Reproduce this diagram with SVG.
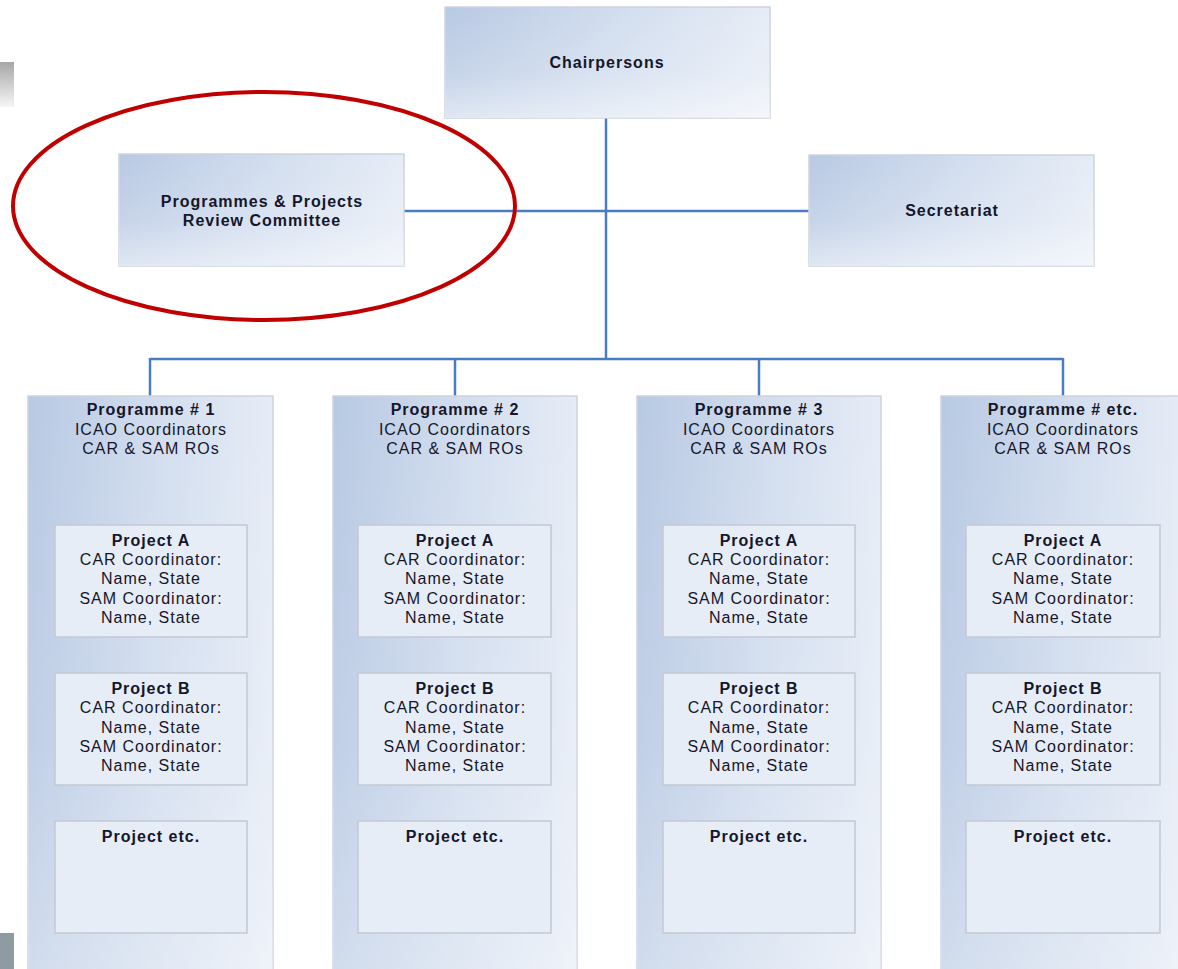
<svg xmlns="http://www.w3.org/2000/svg" width="1178" height="969" viewBox="0 0 1178 969">
<defs>
<linearGradient id="gh" x1="0" y1="0" x2="1" y2="0">
<stop offset="0" stop-color="#b8c9e3"/>
<stop offset="0.5" stop-color="#d0dcee"/>
<stop offset="1" stop-color="#e6ecf6"/>
</linearGradient>
<linearGradient id="gv" x1="0" y1="0" x2="0" y2="1">
<stop offset="0" stop-color="#ffffff" stop-opacity="0"/>
<stop offset="0.6" stop-color="#ffffff" stop-opacity="0.2"/>
<stop offset="1" stop-color="#ffffff" stop-opacity="0.55"/>
</linearGradient>
<linearGradient id="gcol" x1="0" y1="0" x2="0" y2="1">
<stop offset="0" stop-color="#ffffff" stop-opacity="0"/>
<stop offset="0.6" stop-color="#ffffff" stop-opacity="0.12"/>
<stop offset="1" stop-color="#ffffff" stop-opacity="0.35"/>
</linearGradient>
<linearGradient id="ggray" x1="0" y1="0" x2="0" y2="1">
<stop offset="0" stop-color="#a6a6a6"/>
<stop offset="1" stop-color="#f6f6f6"/>
</linearGradient>
</defs>
<style>
.box{fill:url(#gh);stroke:#cdd3dd;stroke-width:1.5}
.ov{fill:url(#gv);stroke:none}
.ovc{fill:url(#gcol);stroke:none}
.proj{fill:#e6edf7;stroke:#c3c9d3;stroke-width:1.5}
.t{font-family:"Liberation Sans",Arial,sans-serif;font-size:16px;letter-spacing:1px;fill:#16162a;text-anchor:middle}
.b{font-weight:bold}
.con{stroke:#4a7cc4;stroke-width:2.5;fill:none}
</style>
<rect width="1178" height="969" fill="#ffffff"/>
<rect x="0" y="62" width="14" height="45" fill="url(#ggray)"/>
<rect x="0" y="933" width="14" height="36" fill="#8e9ba2"/>

<g id="connectors">
<line class="con" x1="606" y1="118" x2="606" y2="359"/>
<line class="con" x1="404" y1="211" x2="809" y2="211"/>
<line class="con" x1="150" y1="359" x2="1063" y2="359"/>
<line class="con" x1="150" y1="358" x2="150" y2="396"/>
<line class="con" x1="455" y1="358" x2="455" y2="396"/>
<line class="con" x1="759" y1="358" x2="759" y2="396"/>
<line class="con" x1="1063" y1="358" x2="1063" y2="396"/>
</g>

<g id="chairpersons">
<rect class="box" x="445" y="7" width="325" height="111"/>
<rect class="ov" x="445" y="7" width="325" height="111"/>
<text class="t b" x="607" y="68">Chairpersons</text>
</g>

<g id="pprc">
<rect class="box" x="119" y="154" width="285" height="112"/>
<rect class="ov" x="119" y="154" width="285" height="112"/>
<text class="t b" x="262" y="207">Programmes &amp; Projects</text>
<text class="t b" x="262" y="226">Review Committee</text>
</g>

<g id="secretariat">
<rect class="box" x="809" y="155" width="285" height="111"/>
<rect class="ov" x="809" y="155" width="285" height="111"/>
<text class="t b" x="952" y="216">Secretariat</text>
</g>

<g id="highlight">
<ellipse cx="264" cy="206" rx="251" ry="114" fill="none" stroke="#c00000" stroke-width="4"/>
</g>

<g id="programme1">
<rect class="box" x="28" y="396" width="245" height="580"/>
<rect class="ovc" x="28" y="396" width="245" height="580"/>
<text class="t b" x="151" y="415">Programme # 1</text>
<text class="t" x="151" y="435">ICAO Coordinators</text>
<text class="t" x="151" y="454">CAR &amp; SAM ROs</text>
<g id="p1a">
<rect class="proj" x="55" y="525" width="192" height="112"/>
<text class="t b" x="151" y="546">Project A</text>
<text class="t" x="151" y="565">CAR Coordinator:</text>
<text class="t" x="151" y="584">Name, State</text>
<text class="t" x="151" y="604">SAM Coordinator:</text>
<text class="t" x="151" y="623">Name, State</text>
</g>
<g id="p1b">
<rect class="proj" x="55" y="673" width="192" height="112"/>
<text class="t b" x="151" y="694">Project B</text>
<text class="t" x="151" y="713">CAR Coordinator:</text>
<text class="t" x="151" y="733">Name, State</text>
<text class="t" x="151" y="752">SAM Coordinator:</text>
<text class="t" x="151" y="771">Name, State</text>
</g>
<g id="p1c">
<rect class="proj" x="55" y="821" width="192" height="112"/>
<text class="t b" x="151" y="842">Project etc.</text>
</g>
</g>

<g id="programme2">
<rect class="box" x="333" y="396" width="244" height="580"/>
<rect class="ovc" x="333" y="396" width="244" height="580"/>
<text class="t b" x="455" y="415">Programme # 2</text>
<text class="t" x="455" y="435">ICAO Coordinators</text>
<text class="t" x="455" y="454">CAR &amp; SAM ROs</text>
<g id="p2a">
<rect class="proj" x="358" y="525" width="193" height="112"/>
<text class="t b" x="455" y="546">Project A</text>
<text class="t" x="455" y="565">CAR Coordinator:</text>
<text class="t" x="455" y="584">Name, State</text>
<text class="t" x="455" y="604">SAM Coordinator:</text>
<text class="t" x="455" y="623">Name, State</text>
</g>
<g id="p2b">
<rect class="proj" x="358" y="673" width="193" height="112"/>
<text class="t b" x="455" y="694">Project B</text>
<text class="t" x="455" y="713">CAR Coordinator:</text>
<text class="t" x="455" y="733">Name, State</text>
<text class="t" x="455" y="752">SAM Coordinator:</text>
<text class="t" x="455" y="771">Name, State</text>
</g>
<g id="p2c">
<rect class="proj" x="358" y="821" width="193" height="112"/>
<text class="t b" x="455" y="842">Project etc.</text>
</g>
</g>

<g id="programme3">
<rect class="box" x="637" y="396" width="244" height="580"/>
<rect class="ovc" x="637" y="396" width="244" height="580"/>
<text class="t b" x="759" y="415">Programme # 3</text>
<text class="t" x="759" y="435">ICAO Coordinators</text>
<text class="t" x="759" y="454">CAR &amp; SAM ROs</text>
<g id="p3a">
<rect class="proj" x="663" y="525" width="192" height="112"/>
<text class="t b" x="759" y="546">Project A</text>
<text class="t" x="759" y="565">CAR Coordinator:</text>
<text class="t" x="759" y="584">Name, State</text>
<text class="t" x="759" y="604">SAM Coordinator:</text>
<text class="t" x="759" y="623">Name, State</text>
</g>
<g id="p3b">
<rect class="proj" x="663" y="673" width="192" height="112"/>
<text class="t b" x="759" y="694">Project B</text>
<text class="t" x="759" y="713">CAR Coordinator:</text>
<text class="t" x="759" y="733">Name, State</text>
<text class="t" x="759" y="752">SAM Coordinator:</text>
<text class="t" x="759" y="771">Name, State</text>
</g>
<g id="p3c">
<rect class="proj" x="663" y="821" width="192" height="112"/>
<text class="t b" x="759" y="842">Project etc.</text>
</g>
</g>

<g id="programme4">
<rect class="box" x="941" y="396" width="245" height="580"/>
<rect class="ovc" x="941" y="396" width="245" height="580"/>
<text class="t b" x="1063" y="415">Programme # etc.</text>
<text class="t" x="1063" y="435">ICAO Coordinators</text>
<text class="t" x="1063" y="454">CAR &amp; SAM ROs</text>
<g id="p4a">
<rect class="proj" x="966" y="525" width="194" height="112"/>
<text class="t b" x="1063" y="546">Project A</text>
<text class="t" x="1063" y="565">CAR Coordinator:</text>
<text class="t" x="1063" y="584">Name, State</text>
<text class="t" x="1063" y="604">SAM Coordinator:</text>
<text class="t" x="1063" y="623">Name, State</text>
</g>
<g id="p4b">
<rect class="proj" x="966" y="673" width="194" height="112"/>
<text class="t b" x="1063" y="694">Project B</text>
<text class="t" x="1063" y="713">CAR Coordinator:</text>
<text class="t" x="1063" y="733">Name, State</text>
<text class="t" x="1063" y="752">SAM Coordinator:</text>
<text class="t" x="1063" y="771">Name, State</text>
</g>
<g id="p4c">
<rect class="proj" x="966" y="821" width="194" height="112"/>
<text class="t b" x="1063" y="842">Project etc.</text>
</g>
</g>
</svg>
